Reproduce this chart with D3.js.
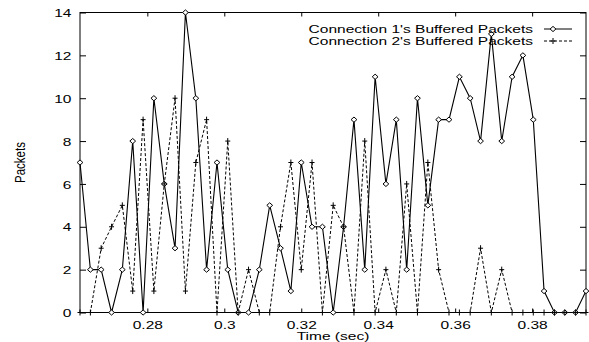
<!DOCTYPE html>
<html>
<head>
<meta charset="utf-8">
<script src="https://cdn.jsdelivr.net/npm/d3@7"></script>
<style>
  html, body { margin: 0; padding: 0; background: #fff; }
  svg text { font-family: "Liberation Sans", Arial, Helvetica, sans-serif; fill: #000; }
</style>
</head>
<body>
<svg id="chart" width="589" height="342"></svg>
<script>
// sample times (sec)
var times = [0.2625, 0.2652, 0.2680, 0.2707, 0.2735, 0.2762, 0.2789, 0.2817, 0.2844, 0.2872,
             0.2899, 0.2926, 0.2954, 0.2981, 0.3009, 0.3036, 0.3063, 0.3091, 0.3118, 0.3146,
             0.3173, 0.3200, 0.3228, 0.3255, 0.3283, 0.3310, 0.3337, 0.3365, 0.3392, 0.3420,
             0.3447, 0.3474, 0.3502, 0.3529, 0.3557, 0.3584, 0.3611, 0.3639, 0.3666, 0.3694,
             0.3721, 0.3748, 0.3776, 0.3803, 0.3831, 0.3858, 0.3885, 0.3913, 0.3940];
var conn1 = [7, 2, 2, 0, 2, 8, 0, 10, 6, 3,
             14, 10, 2, 7, 2, 0, 0, 2, 5, 3,
             1, 7, 4, 4, 0, 4, 9, 2, 11, 6,
             9, 2, 10, 5, 9, 9, 11, 10, 8, 13,
             8, 11, 12, 9, 1, 0, 0, 0, 1];
var conn2 = [0, 0, 3, 4, 5, 1, 9, 1, 6, 10,
             1, 7, 9, 0, 8, 0, 2, 0, 0, 4,
             7, 2, 7, 0, 5, 4, 0, 8, 0, 2,
             0, 6, 0, 7, 2, 0, 0, 0, 3, 0,
             2, 0, 0, 0, 0, 0, 0, 0, 0];
var xTicks = [0.28, 0.30, 0.32, 0.34, 0.36, 0.38];
var yTicks = [0, 2, 4, 6, 8, 10, 12, 14];
var legendLabels = ["Connection 1's Buffered Packets", "Connection 2's Buffered Packets"];

var svg = d3.select('#chart');
var plotL = 80, plotR = 586, plotT = 12.5, plotB = 312.5;
var stretch = 1.35, fs = 11.5;

var x = d3.scaleLinear().domain(d3.extent(times)).range([plotL, plotR]);
var y = d3.scaleLinear().domain([0, 14]).range([plotB, plotT]);

// stretched text helper (original picture is widened horizontally)
var label = function(parent, tx, ty, str, anchor, rot){
    var g = parent.append('g')
        .attr('transform', 'translate(' + tx + ',' + ty + ') scale(' + stretch + ',1)' + (rot ? ' rotate(' + rot + ')' : ''));
    g.append('text')
        .attr('font-size', fs)
        .attr('text-anchor', anchor)
        .text(str);
    return g;
}

// axes: ticks inward on all four sides
var fmtX = function(d){ return String(+d.toFixed(2)); };
var bottomAxis = svg.append('g').attr('transform', 'translate(0,' + plotB + ')')
    .call(d3.axisBottom(x).tickValues(xTicks).tickSizeInner(-4).tickSizeOuter(0).tickFormat(fmtX));
var topAxis = svg.append('g').attr('transform', 'translate(0,' + plotT + ')')
    .call(d3.axisTop(x).tickValues(xTicks).tickSizeInner(-4).tickSizeOuter(0).tickFormat(''));
var leftAxis = svg.append('g').attr('transform', 'translate(' + plotL + ',0)')
    .call(d3.axisLeft(y).tickValues(yTicks).tickSizeInner(-6).tickSizeOuter(0).tickFormat(d3.format('d')));
var rightAxis = svg.append('g').attr('transform', 'translate(' + plotR + ',0)')
    .call(d3.axisRight(y).tickValues(yTicks).tickSizeInner(-6).tickSizeOuter(0).tickFormat(''));

[bottomAxis, topAxis, leftAxis, rightAxis].forEach(function(a){
    a.select('.domain').remove();
    a.selectAll('.tick line').attr('stroke', '#000').attr('stroke-width', 1);
});

bottomAxis.selectAll('.tick text')
    .attr('y', 0).attr('dy', null)
    .attr('font-size', fs)
    .attr('transform', 'translate(0,16) scale(' + stretch + ',1)');
leftAxis.selectAll('.tick text')
    .attr('x', 0).attr('dy', '0.36em')
    .attr('font-size', fs)
    .attr('transform', 'translate(-8.5,0) scale(' + stretch + ',1)');
svg.selectAll('.tick text').attr('fill', '#000');
svg.selectAll('g[font-family]').attr('font-family', null).attr('font-size', null);

// frame
svg.append('rect')
    .attr('x', plotL).attr('y', plotT)
    .attr('width', plotR - plotL).attr('height', plotB - plotT)
    .attr('fill', 'none').attr('stroke', '#000').attr('stroke-width', 1);

// axis titles
label(svg, 333, 339.5, 'Time (sec)', 'middle');
label(svg, 25, 162.5, 'Packets', 'middle', -90);

// series
var line1 = d3.line().x(function(d, i){ return x(times[i]); }).y(function(d){ return y(d); });

svg.append('path').datum(conn2)
    .attr('d', line1)
    .attr('fill', 'none').attr('stroke', '#000').attr('stroke-width', 1)
    .attr('stroke-dasharray', '3,2');
svg.append('path').datum(conn1)
    .attr('d', line1)
    .attr('fill', 'none').attr('stroke', '#000').attr('stroke-width', 1.1);

var diamond = 'M0,-2.6 L2.9,0 L0,2.6 L-2.9,0 Z';
var plus = 'M-2.5,0 H2.5 M0,-3 V3';

svg.append('g').selectAll('path').data(conn1).enter().append('path')
    .attr('transform', function(d, i){ return 'translate(' + x(times[i]) + ',' + y(d) + ')'; })
    .attr('d', diamond)
    .attr('fill', '#fff').attr('stroke', '#000').attr('stroke-width', 1);
svg.append('g').selectAll('path').data(conn2).enter().append('path')
    .attr('transform', function(d, i){ return 'translate(' + x(times[i]) + ',' + y(d) + ')'; })
    .attr('d', plus)
    .attr('fill', 'none').attr('stroke', '#000').attr('stroke-width', 1);

// legend
var legY = [33, 45];
legendLabels.forEach(function(t, k){
    label(svg, 533, legY[k], t, 'end');
    var ly = legY[k] - 4;
    svg.append('line')
        .attr('x1', 544).attr('x2', 572).attr('y1', ly).attr('y2', ly)
        .attr('stroke', '#000').attr('stroke-width', 1)
        .attr('stroke-dasharray', k == 0 ? null : '3,2');
    svg.append('path')
        .attr('transform', 'translate(553,' + ly + ')')
        .attr('d', k == 0 ? diamond : plus)
        .attr('fill', k == 0 ? '#fff' : 'none')
        .attr('stroke', '#000').attr('stroke-width', 1);
});
</script>
</body>
</html>
